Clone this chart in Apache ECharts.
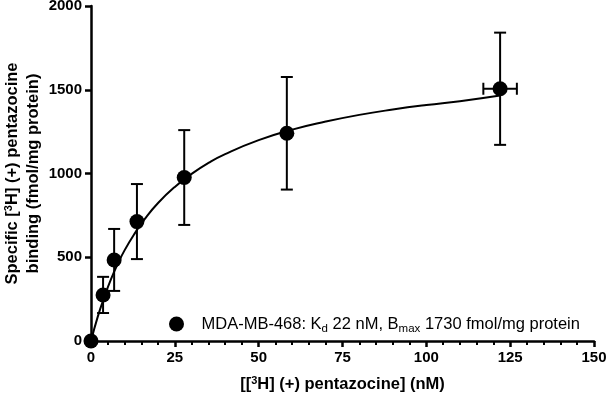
<!DOCTYPE html>
<html>
<head>
<meta charset="utf-8">
<script src="https://cdn.jsdelivr.net/npm/echarts@6/dist/echarts.min.js"></script>
<style>html,body{margin:0;padding:0;background:#fff}#c{width:606px;height:401px}</style>
</head>
<body>
<div id="c"></div>
<script>
// Data
const xVals = [0, 3.6, 6.9, 13.7, 27.8, 58.4, 122];
const yVals = [0, 275, 484, 713, 976, 1240, 1506];
const yErr = [0, 108, 185, 224, 283, 336, 335];
const xErr = [0, 0, 0, 0, 0, 0, 5];
const fitX = [0, 2, 4, 6, 8, 10, 13, 16, 20, 25, 30, 35, 40, 50, 60, 70, 80, 90, 100, 110, 122];
const fitY = [0, 144, 264, 371, 461, 541, 641, 728, 824, 920, 998, 1063, 1116, 1199, 1262, 1310, 1350, 1382, 1409, 1432, 1466];
const xTicks = [0, 25, 50, 75, 100, 125, 150];
const yTicks = [0, 500, 1000, 1500, 2000];
const seriesName = 'MDA-MB-468';

const points = xVals.map((x, i) => [x, yVals[i]]);
const errData = xVals.map((x, i) => [x, yVals[i], yErr[i], xErr[i]]);
const fitData = fitX.map((x, i) => [x, fitY[i]]);

const FONT = '"Liberation Sans", Arial, sans-serif';
const chart = echarts.init(document.getElementById('c'), null, {renderer: 'canvas'});
chart.setOption({
  animation: false,
  grid: {left: 91, right: 12, top: 6, bottom: 60, containLabel: false, outerBoundsMode: 'none'},
  legend: {
    data: [seriesName],
    left: 164, top: 308,
    itemWidth: 40, itemHeight: 15,
    icon: 'circle',
    itemStyle: {color: '#000', opacity: 1},
    formatter: function () {
      return '{t|MDA-MB-468: K}{s|d}{t| 22 nM, B}{s|max}{t| 1730 fmol/mg protein}';
    },
    textStyle: {
      fontFamily: FONT, color: '#000', fontSize: 16.5,
      rich: {
        t: {fontFamily: FONT, fontSize: 16.5, color: '#000', lineHeight: 20},
        s: {fontFamily: FONT, fontSize: 11.5, color: '#000', padding: [10, 0, 0, 0], lineHeight: 20}
      }
    }
  },
  xAxis: {
    type: 'value', min: 0, max: 150, interval: 25,
    name: '[[{sup|3}H] (+) pentazocine] (nM)',
    nameLocation: 'middle', nameGap: 34, nameMoveOverlap: false,
    nameTextStyle: {
      fontFamily: FONT, fontWeight: 'bold', fontSize: 16.5, color: '#000',
      rich: {sup: {fontFamily: FONT, fontWeight: 'bold', fontSize: 11, color: '#000', padding: [0, 0, 8, 0]}}
    },
    axisLine: {show: true, onZero: false, lineStyle: {color: '#000', width: 2.5}},
    axisTick: {show: true, length: 6, lineStyle: {color: '#000', width: 2.5}},
    minorTick: {show: true, splitNumber: 5, length: 4, lineStyle: {color: '#000', width: 2}},
    splitLine: {show: false},
    axisLabel: {
      margin: 9, fontFamily: FONT, fontWeight: 'bold', fontSize: 15, color: '#000',
      formatter: v => xTicks.includes(v) ? String(v) : ''
    }
  },
  yAxis: {
    type: 'value', min: 0, max: 2000, interval: 500,
    name: 'Specific [{sup|3}H] (+) pentazocine\nbinding (fmol/mg protein)',
    nameLocation: 'middle', nameGap: 47, nameMoveOverlap: false,
    nameTextStyle: {
      fontFamily: FONT, fontWeight: 'bold', fontSize: 16.5, color: '#000', lineHeight: 21,
      rich: {sup: {fontFamily: FONT, fontWeight: 'bold', fontSize: 11, color: '#000', padding: [0, 0, 8, 0]}}
    },
    axisLine: {show: true, onZero: false, lineStyle: {color: '#000', width: 2.5}},
    axisTick: {show: true, length: 6, lineStyle: {color: '#000', width: 2.5}},
    splitLine: {show: false},
    axisLabel: {
      margin: 9, fontFamily: FONT, fontWeight: 'bold', fontSize: 15, color: '#000',
      formatter: v => yTicks.includes(v) ? String(v) : ''
    }
  },
  series: [
    {
      type: 'line', name: 'fit', data: fitData, smooth: true, showSymbol: false,
      lineStyle: {color: '#000', width: 2}, z: 2
    },
    {
      type: 'custom', name: 'err', data: errData, z: 3,
      renderItem: function (params, api) {
        const x = api.value(0), y = api.value(1), ey = api.value(2), ex = api.value(3);
        const children = [];
        const cap = 6;
        const st = {stroke: '#000', lineWidth: 2, fill: null};
        if (ey > 0) {
          const top = api.coord([x, y + ey]);
          const bot = api.coord([x, y - ey]);
          children.push({type: 'line', shape: {x1: top[0], y1: top[1], x2: bot[0], y2: bot[1]}, style: st});
          children.push({type: 'line', shape: {x1: top[0] - cap, y1: top[1], x2: top[0] + cap, y2: top[1]}, style: st});
          children.push({type: 'line', shape: {x1: bot[0] - cap, y1: bot[1], x2: bot[0] + cap, y2: bot[1]}, style: st});
        }
        if (ex > 0) {
          const l = api.coord([x - ex, y]);
          const r = api.coord([x + ex, y]);
          children.push({type: 'line', shape: {x1: l[0], y1: l[1], x2: r[0], y2: r[1]}, style: st});
          children.push({type: 'line', shape: {x1: l[0], y1: l[1] - cap, x2: l[0], y2: l[1] + cap}, style: st});
          children.push({type: 'line', shape: {x1: r[0], y1: r[1] - cap, x2: r[0], y2: r[1] + cap}, style: st});
        }
        return {type: 'group', children: children};
      }
    },
    {
      type: 'scatter', name: seriesName, data: points, symbol: 'circle', symbolSize: 15,
      itemStyle: {color: '#000', opacity: 1}, clip: false, z: 4
    }
  ]
});
</script>
</body>
</html>
